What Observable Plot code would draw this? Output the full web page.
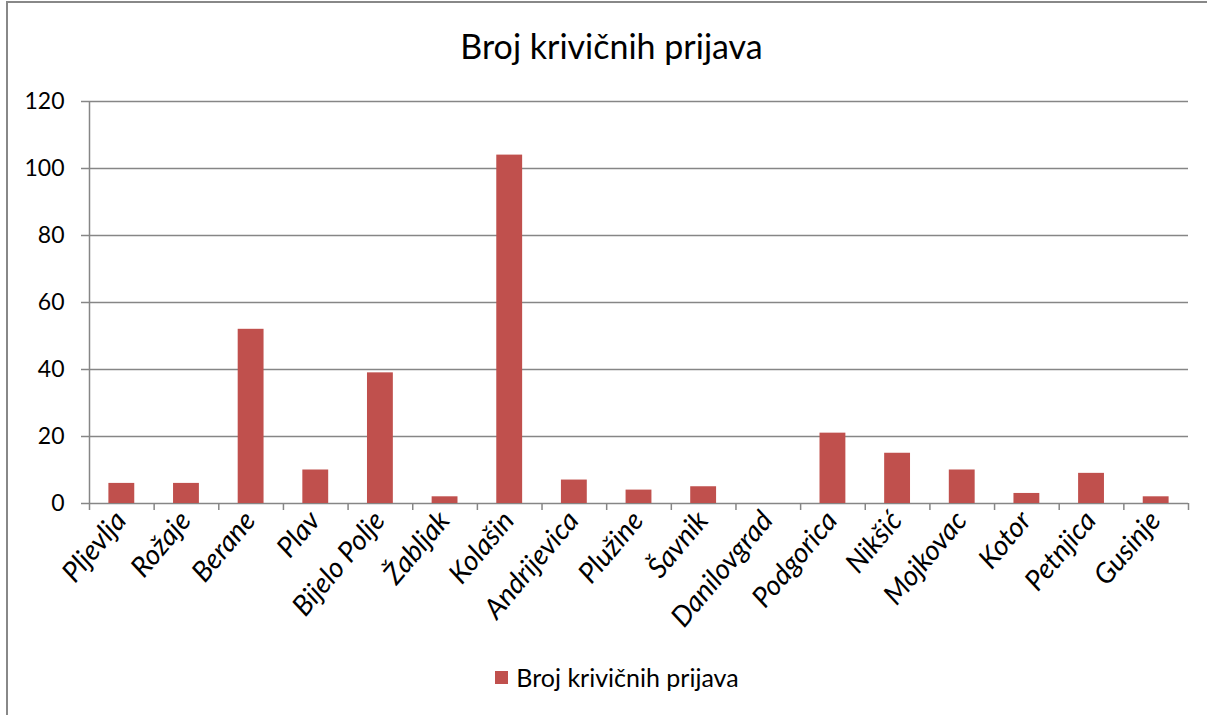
<!DOCTYPE html>
<html>
<head>
<meta charset="utf-8">
<script src="https://cdn.jsdelivr.net/npm/d3@7"></script>
<script src="https://cdn.jsdelivr.net/npm/@observablehq/plot@0.6"></script>
<style>
  html, body { margin: 0; padding: 0; background: #fff; }
  #wrap { position: relative; width: 1207px; height: 715px; overflow: hidden; font-family: Lato, sans-serif; }
  #frame { position: absolute; left: 6px; top: 1px; width: 1300px; height: 800px; border-left: 2px solid #888; border-top: 2px solid #888; box-sizing: border-box; pointer-events: none; }
  #title { height: 80px; line-height: 92px; text-align: center; font-size: 34px; color: #000; padding-left: 16px; box-sizing: border-box; overflow: visible; }
  #legend { height: 65px; display: flex; justify-content: center; align-items: center; padding-bottom: 11px; padding-left: 27px; box-sizing: border-box; font-size: 25px; color: #000; }
  #legend .sw { width: 13px; height: 13px; background: #C0504D; margin-right: 8px; }
  svg { display: block; overflow: visible; }
</style>
</head>
<body>
<div id="wrap">
  <div id="frame"></div>
  <div id="title"></div>
  <div id="chart"></div>
  <div id="legend"><span class="sw"></span><span id="legtext"></span></div>
</div>
<script>
const titleText = "Broj krivičnih prijava";
const seriesName = "Broj krivičnih prijava";
const categories = ["Pljevlja", "Rožaje", "Berane", "Plav", "Bijelo Polje", "Žabljak", "Kolašin", "Andrijevica", "Plužine", "Šavnik", "Danilovgrad", "Podgorica", "Nikšić", "Mojkovac", "Kotor", "Petnjica", "Gusinje"];
const values = [6, 6, 52, 10, 39, 2, 104, 7, 4, 5, 0, 21, 15, 10, 3, 9, 2];
const yTicks = [0, 20, 40, 60, 80, 100, 120];

document.getElementById("title").textContent = titleText;
document.getElementById("legtext").textContent = seriesName;

const data = categories.map((c, i) => ({name: c, idx: i, value: values[i]}));
const grid = "#868686";

const chart = Plot.plot({
  width: 1207,
  height: 570,
  marginTop: 21,
  marginBottom: 147,
  marginLeft: 89,
  marginRight: 19,
  style: {fontFamily: "Lato, sans-serif", fontSize: "22px", color: "#000", background: "transparent", overflow: "visible"},
  x: {type: "linear", domain: [0, categories.length], axis: null},
  y: {domain: [0, 120], axis: null},
  marks: [
    Plot.ruleY(yTicks, {stroke: grid, strokeWidth: 1.5, insetLeft: -8}),
    Plot.ruleX([0], {stroke: grid, strokeWidth: 1.5}),
    Plot.rectY(data, {x1: d => d.idx + 0.3, x2: d => d.idx + 0.7, y: "value", fill: "#C0504D"}),
    Plot.axisY({ticks: yTicks, tickSize: 0, tickPadding: 25, fontSize: 23, label: null}),
    Plot.axisX({ticks: d3.range(categories.length + 1), tickSize: 7, tickFormat: () => "", stroke: grid, strokeWidth: 1.5, label: null}),
    Plot.axisX({ticks: categories.map((c, i) => i + 0.5), tickFormat: v => categories[Math.floor(v)], tickSize: 0, tickPadding: 12, tickRotate: -50, fontStyle: "italic", fontSize: 28, dx: -1, label: null})
  ]
});
document.getElementById("chart").appendChild(chart);
</script>
</body>
</html>
